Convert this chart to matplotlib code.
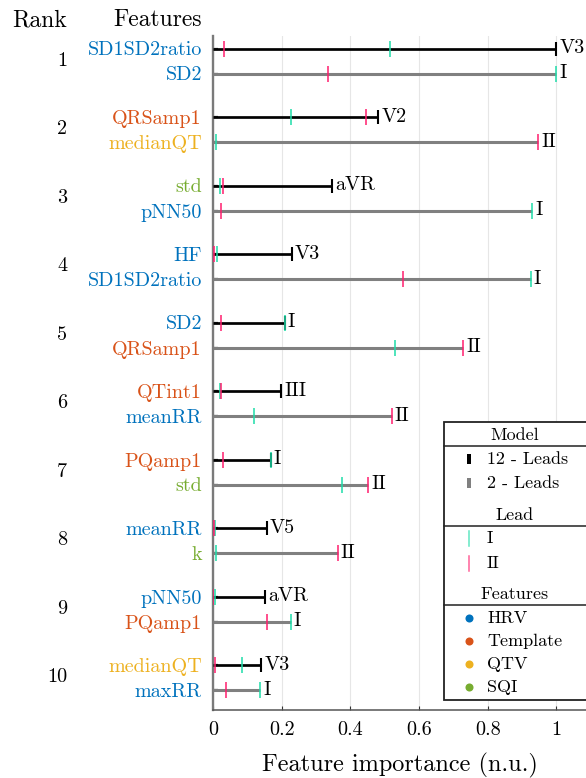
import matplotlib
matplotlib.use("Agg")
import matplotlib.pyplot as plt
import matplotlib.transforms as mtrans
from matplotlib.patches import Rectangle
import numpy as np

plt.rcParams['font.family'] = ['cmr10', 'DejaVu Serif']
plt.rcParams['mathtext.fontset'] = 'cm'
plt.rcParams['axes.formatter.use_mathtext'] = True

# ---------------- data ----------------
ranks = [1, 2, 3, 4, 5, 6, 7, 8, 9, 10]

feat12 = ['SD1SD2ratio', 'QRSamp1', 'std', 'HF', 'SD2', 'QTint1', 'PQamp1',
          'meanRR', 'pNN50', 'medianQT']
cat12 = ['HRV', 'Template', 'SQI', 'HRV', 'HRV', 'Template', 'Template',
         'HRV', 'HRV', 'QTV']
imp12 = [1.0, 0.481, 0.347, 0.230, 0.209, 0.199, 0.168, 0.157, 0.151, 0.141]
best12 = ['V3', 'V2', 'aVR', 'V3', 'I', 'III', 'I', 'V5', 'aVR', 'V3']
leadI12 = [0.516, 0.228, 0.020, 0.013, 0.209, 0.020, 0.168, 0.005, 0.005, 0.085]
leadII12 = [0.032, 0.445, 0.030, 0.003, 0.023, 0.023, 0.028, 0.002, 0.001, 0.005]

feat2 = ['SD2', 'medianQT', 'pNN50', 'SD1SD2ratio', 'QRSamp1', 'meanRR', 'std',
         'k', 'PQamp1', 'maxRR']
cat2 = ['HRV', 'QTV', 'HRV', 'HRV', 'Template', 'HRV', 'SQI', 'SQI',
        'Template', 'HRV']
imp2 = [1.0, 0.948, 0.929, 0.925, 0.728, 0.520, 0.452, 0.363, 0.226, 0.137]
best2 = ['I', 'II', 'I', 'I', 'II', 'II', 'II', 'II', 'I', 'I']
leadI2 = [1.0, 0.010, 0.929, 0.925, 0.530, 0.119, 0.376, 0.009, 0.226, 0.137]
leadII2 = [0.334, 0.948, 0.023, 0.553, 0.728, 0.520, 0.452, 0.363, 0.158, 0.038]

xticks = [0, 0.2, 0.4, 0.6, 0.8, 1.0]
xticklabels = ['0', '0.2', '0.4', '0.6', '0.8', '1']

cat_colors = {'HRV': '#0072BD', 'Template': '#D95319', 'QTV': '#EDB120', 'SQI': '#77AC30'}
col12 = 'black'
col2 = '#808080'
colI = '#1FDCA9'
colII = '#FF1F6E'

# ---------------- figure ----------------
W, H = 586, 778
fig = plt.figure(figsize=(W / 100, H / 100), dpi=100)
ax = fig.add_axes([213 / W, 1 - 710 / H, (W - 213) / W, (710 - 36) / H])

d = 0.1825
r = np.array(ranks, dtype=float)
y12 = r - d
y2 = r + d

ax.hlines(y12, 0, imp12, color=col12, lw=1.95, zorder=3)
ax.hlines(y2, 0, imp2, color=col2, lw=2.2, zorder=3)
ax.plot(imp12, y12, ls='none', marker='|', ms=9.5, mew=1.5, color=col12, zorder=4)

for yy, a, b in ((y12, leadI12, leadII12), (y2, leadI2, leadII2)):
    ax.plot(a, yy, ls='none', marker='|', ms=11.5, mew=1.3, color=colI, alpha=0.85, zorder=5)
    ax.plot(b, yy, ls='none', marker='|', ms=11.5, mew=1.3, color=colII, alpha=0.85, zorder=6)

fs = 14.5
for yy, v, lab in zip(y12, imp12, best12):
    ax.annotate(lab, xy=(v, yy), xytext=(2.2, 0), textcoords='offset points',
                ha='left', va='center', fontsize=fs)
for yy, v, lab in zip(y2, imp2, best2):
    ax.annotate(lab, xy=(v, yy), xytext=(2.2, 0), textcoords='offset points',
                ha='left', va='center', fontsize=fs)

ax.set_xlim(0, (W - 213) / 343.3)
ax.set_ylim(10.474, 0.635)

yt = list(y12) + list(y2)
yl = feat12 + feat2
yc = cat12 + cat2
ax.set_yticks(yt)
ax.set_yticklabels(yl, fontsize=fs)
for t, c in zip(ax.get_yticklabels(), yc):
    t.set_color(cat_colors[c])

ax.set_xticks(xticks)
ax.set_xticklabels(xticklabels, fontsize=fs)
ax.tick_params(axis='y', direction='in', length=3.5, width=1.6, color='#333333', pad=8)
ax.tick_params(axis='x', direction='in', length=3, width=0.8, color='#333333', pad=8)

ax.grid(axis='x', color='#e6e6e6', lw=0.8)
ax.set_axisbelow(True)
for s in ('top', 'right'):
    ax.spines[s].set_visible(False)
ax.spines['left'].set_color('#7a7a7a')
ax.spines['left'].set_linewidth(1.7)
ax.spines['bottom'].set_color('#555555')
ax.spines['bottom'].set_linewidth(1.1)

ax.set_xlabel('Feature importance (n.u.)', fontsize=17.5, labelpad=10)

# rank labels
btr = mtrans.blended_transform_factory(fig.transFigure, ax.transData)
for rk in ranks:
    ax.text(67 / W, rk, str(rk), transform=btr, ha='right', va='center', fontsize=fs)

fig.text(67 / W, 1 - 20 / H, 'Rank', ha='right', va='center', fontsize=17)
fig.text(202 / W, 1 - 20 / H, 'Features', ha='right', va='center', fontsize=17)

# ---------------- legend (pixel coords overlay) ----------------
lax = fig.add_axes([0, 0, 1, 1], zorder=10)
lax.set_xlim(0, W)
lax.set_ylim(H, 0)
lax.axis('off')
lax.patch.set_alpha(0)

lax.add_patch(Rectangle((444, 422), 200, 278, fc='white', ec='#222222', lw=1.3))
for yy in (446, 526, 605):
    lax.plot([444, 600], [yy, yy], color='#222222', lw=1.1)

lfs = 13
tx = 487
mx = 469
lax.text(515, 435, 'Model', ha='center', va='center', fontsize=lfs)
lax.add_patch(Rectangle((mx - 1.6, 454), 3.2, 10, fc=col12, ec='none'))
lax.text(tx, 459, '12 - Leads', ha='left', va='center', fontsize=lfs)
lax.add_patch(Rectangle((mx - 1.6, 478), 3.2, 10, fc=col2, ec='none'))
lax.text(tx, 483, '2 - Leads', ha='left', va='center', fontsize=lfs)

lax.text(515, 515, 'Lead', ha='center', va='center', fontsize=lfs)
lax.plot([mx, mx], [530.5, 545.5], color=colI, lw=1.1, alpha=0.7)
lax.text(tx, 538, 'I', ha='left', va='center', fontsize=lfs)
lax.plot([mx, mx], [555.5, 570.5], color=colII, lw=1.1, alpha=0.7)
lax.text(tx, 563, 'II', ha='left', va='center', fontsize=lfs)

lax.text(515, 594, 'Features', ha='center', va='center', fontsize=lfs)
for yy, name in zip((618, 641, 664, 687), ('HRV', 'Template', 'QTV', 'SQI')):
    lax.plot([mx], [yy], marker='o', ms=5.8, color=cat_colors[name], mec='none')
    lax.text(tx, yy, name, ha='left', va='center', fontsize=lfs)

fig.savefig('out.png', dpi=100)
